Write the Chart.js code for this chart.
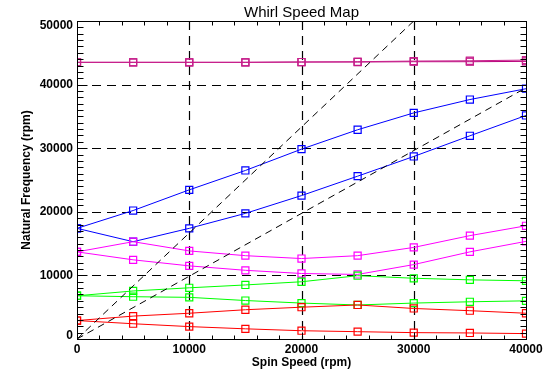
<!DOCTYPE html>
<html><head><meta charset="utf-8">
<script src="https://cdn.jsdelivr.net/npm/chart.js@4.4.0/dist/chart.umd.min.js"></script>
<style>html,body{margin:0;padding:0;background:#fff;}canvas{display:block;}</style>
</head><body>
<canvas id="c" width="558" height="373"></canvas>
<script>
// ---- data ----
const spinSpeed = [0, 5000, 10000, 15000, 20000, 25000, 30000, 35000, 40000];
const topModeA  = [43500, 43500, 43500, 43500, 43550, 43550, 43600, 43600, 43650];
const topModeB  = [43500, 43500, 43500, 43500, 43550, 43600, 43700, 43750, 43850];
const blueUpper = [17400, 20200, 23450, 26500, 29850, 32900, 35550, 37650, 39350];
const blueLower = [17400, 15300, 17400, 19750, 22550, 25600, 28700, 31950, 35150];
const magUpper  = [13700, 15300, 13850, 13100, 12650, 13100, 14400, 16250, 17800];
const magLower  = [13700, 12450, 11500, 10800, 10300, 10150, 11700, 13700, 15350];
const grnUpper  = [6800, 7550, 8050, 8500, 9000, 9950, 9550, 9300, 9150];
const grnLower  = [6800, 6650, 6550, 6050, 5650, 5350, 5650, 5850, 6000];
const redUpper  = [2900, 3600, 4050, 4600, 5000, 5350, 4800, 4450, 4050];
const redLower  = [2900, 2400, 1950, 1600, 1300, 1150, 1000, 950, 850];
const steepLineX = [0, 30000];
const steepLineY = [0, 50000];
const unityLineX = [0, 40000];
const unityLineY = [0, 39500];
const xTickValues = [0, 10000, 20000, 30000, 40000];
const yTickValues = [0, 10000, 20000, 30000, 40000, 50000];
const titleText = 'Whirl Speed Map';
const xTitle = 'Spin Speed (rpm)';
const yTitle = 'Natural Frequency (rpm)';

const pts = (xs, ys) => xs.map((x, i) => ({x: x, y: ys[i]}));
const FONT = 'Liberation Sans';

function modeSet(vals, color) {
  return {
    data: pts(spinSpeed, vals), borderColor: color, backgroundColor: 'rgba(0,0,0,0)',
    borderWidth: 1, pointStyle: 'rect', pointRadius: 5, pointBorderWidth: 1.2,
    pointBorderColor: color, pointBackgroundColor: 'rgba(0,0,0,0)', tension: 0, fill: false
  };
}
function diagSet(xs, ys) {
  return {
    data: pts(xs, ys), borderColor: '#000', borderWidth: 1, borderDash: [7, 5],
    pointRadius: 0, fill: false, tension: 0
  };
}

const frame = {
  id: 'frame',
  beforeDraw(chart) {
    const c = chart.ctx; c.save(); c.fillStyle = '#fff';
    c.fillRect(0, 0, chart.width, chart.height); c.restore();
  },
  beforeDatasetsDraw(chart) {
    const {ctx, chartArea: a, scales: {x, y}} = chart;
    ctx.save();
    ctx.strokeStyle = '#000'; ctx.lineWidth = 1.2; ctx.setLineDash([9, 6]);
    xTickValues.forEach(v => {
      const px = Math.round(x.getPixelForValue(v)) + 0.5;
      if (v === x.min || v === x.max) return;
      ctx.beginPath(); ctx.moveTo(px, a.top); ctx.lineTo(px, a.bottom); ctx.stroke();
    });
    yTickValues.forEach(v => {
      const py = Math.round(y.getPixelForValue(v)) + 0.5;
      if (v === y.min || v === y.max) return;
      ctx.beginPath(); ctx.moveTo(a.left, py); ctx.lineTo(a.right, py); ctx.stroke();
    });
    ctx.restore();
  },
  afterDatasetsDraw(chart) {
    const {ctx, chartArea: a, scales: {x, y}} = chart;
    ctx.save();
    ctx.strokeStyle = '#000'; ctx.lineWidth = 1; ctx.setLineDash([]);
    const L = Math.round(a.left) + 0.5, R = Math.round(a.right) + 0.5;
    const T = Math.round(a.top) + 0.5, B = Math.round(a.bottom) + 0.5;
    ctx.strokeRect(L, T, R - L, B - T);
    ctx.beginPath();
    for (let v = x.min; v <= x.max; v += 2000) {
      const px = Math.round(x.getPixelForValue(v)) + 0.5;
      const len = (v % 10000 === 0) ? 7 : 4;
      ctx.moveTo(px, B); ctx.lineTo(px, B - len);
      ctx.moveTo(px, T); ctx.lineTo(px, T + len);
    }
    for (let v = y.min; v <= y.max; v += 1000) {
      const py = Math.round(y.getPixelForValue(v)) + 0.5;
      const len = (v % 10000 === 0) ? 10 : 6;
      ctx.moveTo(L, py); ctx.lineTo(L + len, py);
      ctx.moveTo(R, py); ctx.lineTo(R - len, py);
    }
    ctx.stroke();
    ctx.restore();
  }
};

new Chart(document.getElementById('c'), {
  type: 'line',
  data: {
    datasets: [
      diagSet(steepLineX, steepLineY),
      diagSet(unityLineX, unityLineY),
      modeSet(redLower, '#ff0000'),
      modeSet(redUpper, '#ff0000'),
      modeSet(grnLower, '#00ff00'),
      modeSet(grnUpper, '#00ff00'),
      modeSet(magLower, '#ff00ff'),
      modeSet(magUpper, '#ff00ff'),
      modeSet(blueLower, '#0000ff'),
      modeSet(blueUpper, '#0000ff'),
      modeSet(topModeB, '#c8208c'),
      modeSet(topModeA, '#b8007a')
    ]
  },
  options: {
    responsive: false, animation: false, devicePixelRatio: 1,
    layout: {padding: {left: 0, right: 32, top: 0, bottom: 0}},
    plugins: {
      legend: {display: false}, tooltip: {enabled: false},
      title: {
        display: true, text: titleText, fullSize: false, color: '#000',
        font: {family: FONT, size: 15, weight: 'normal', lineHeight: '16px'},
        padding: {top: 5, bottom: 0}
      }
    },
    scales: {
      x: {
        type: 'linear', min: 0, max: 40000,
        afterBuildTicks: s => { s.ticks = xTickValues.map(v => ({value: v})); },
        afterFit: s => { s.height = 34; },
        grid: {display: false, drawTicks: false}, border: {display: false},
        ticks: {color: '#000', padding: 3, maxRotation: 0, autoSkip: false,
          font: {family: FONT, size: 12, weight: 'bold'}, callback: v => String(v)},
        title: {display: true, text: xTitle, color: '#000',
          font: {family: FONT, size: 12, weight: 'bold'}, padding: {top: 0, bottom: 3}}
      },
      y: {
        type: 'linear', min: 0, max: 50000,
        afterBuildTicks: s => { s.ticks = yTickValues.map(v => ({value: v})); },
        afterFit: s => { s.width = 77; },
        grid: {display: false, drawTicks: false}, border: {display: false},
        ticks: {color: '#000', padding: 4, autoSkip: false,
          font: ctx => {
            const v = ctx.tick ? ctx.tick.value : null;
            const lh = v === 50000 ? '10px' : (v === 0 ? '6px' : 1.2);
            return {family: FONT, size: 12, weight: 'bold', lineHeight: lh};
          },
          callback: v => v === 50000 ? ['', String(v)] : (v === 0 ? [String(v), ''] : String(v))},
        title: {display: true, text: yTitle, color: '#000',
          font: {family: FONT, size: 12, weight: 'bold'}, padding: {top: 19, bottom: 0}}
      }
    }
  },
  plugins: [frame]
});
</script>
</body></html>
